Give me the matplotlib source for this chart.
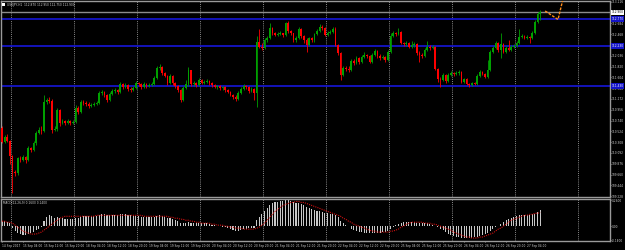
import matplotlib
matplotlib.use('Agg')
import matplotlib.pyplot as plt
from matplotlib.transforms import blended_transform_factory
from matplotlib.patches import Rectangle
from matplotlib import font_manager
import numpy as np

# USDJPY H1, 14 Sep 2017 20:00 .. 27 Sep 2017 ~10:00
first_open = 110.59
close = np.array([
    110.31, 110.41, 110.33, 110.03, 109.71, 109.69, 109.99, 109.95, 110.01, 109.95,
    110.19, 110.15, 110.29, 110.49, 110.55, 110.53, 111.11, 111.15, 111.13, 110.55,
    110.57, 110.95, 110.69, 110.73, 110.69, 110.73, 110.69, 110.71, 110.99, 110.91,
    111.11, 111.09, 111.07, 111.03, 111.05, 111.07, 111.09, 111.29, 111.31, 111.25,
    111.15, 111.27, 111.33, 111.35, 111.31, 111.47, 111.41, 111.45, 111.37, 111.35,
    111.39, 111.49, 111.47, 111.41, 111.47, 111.43, 111.45, 111.47, 111.59, 111.79,
    111.81, 111.69, 111.63, 111.49, 111.63, 111.49, 111.43, 111.35, 111.15, 111.39,
    111.47, 111.75, 111.47, 111.49, 111.45, 111.55, 111.49, 111.51, 111.53, 111.49,
    111.45, 111.41, 111.43, 111.39, 111.41, 111.35, 111.31, 111.25, 111.21, 111.17,
    111.29, 111.37, 111.43, 111.41, 111.33, 111.37, 111.29, 112.31, 112.21, 112.19,
    112.35, 112.39, 112.59, 112.49, 112.45, 112.47, 112.49, 112.45, 112.69, 112.53,
    112.49, 112.35, 112.39, 112.57, 112.43, 112.35, 112.25, 112.39, 112.35, 112.47,
    112.53, 112.61, 112.59, 112.45, 112.49, 112.51, 112.57, 112.25, 112.09, 111.65,
    111.79, 111.77, 111.75, 111.93, 111.89, 111.99, 111.91, 112.01, 112.05, 112.03,
    111.91, 112.05, 112.13, 112.03, 111.99, 112.01, 111.95, 112.11, 112.43, 112.49,
    112.47, 112.51, 112.29, 112.27, 112.29, 112.21, 112.25, 112.27, 112.09, 112.05,
    112.03, 112.15, 112.21, 112.19, 112.21, 111.77, 111.57, 111.55, 111.65, 111.53,
    111.65, 111.69, 111.67, 111.69, 111.71, 111.51, 111.57, 111.47, 111.45, 111.49,
    111.47, 111.63, 111.71, 111.67, 111.61, 111.75, 112.11, 112.19, 112.29, 112.15,
    112.27, 112.11, 112.19, 112.15, 112.21, 112.23, 112.29, 112.41, 112.43, 112.39,
    112.41, 112.39, 112.49, 112.71, 112.87, 112.90])
high = np.array([
    110.63, 110.45, 110.47, 110.35, 110.05, 109.75, 110.01, 110.03, 110.05, 110.03,
    110.23, 110.21, 110.33, 110.53, 110.61, 110.63, 111.25, 111.19, 111.21, 111.17,
    110.63, 110.99, 110.97, 110.77, 110.75, 110.77, 110.75, 110.75, 111.05, 111.03,
    111.15, 111.15, 111.13, 111.11, 111.09, 111.11, 111.13, 111.33, 111.35, 111.33,
    111.27, 111.31, 111.37, 111.39, 111.37, 111.51, 111.49, 111.49, 111.47, 111.41,
    111.43, 111.53, 111.51, 111.49, 111.51, 111.49, 111.49, 111.51, 111.63, 111.83,
    111.87, 111.83, 111.71, 111.65, 111.67, 111.65, 111.51, 111.45, 111.37, 111.43,
    111.55, 111.81, 111.75, 111.53, 111.51, 111.59, 111.57, 111.55, 111.57, 111.55,
    111.51, 111.47, 111.45, 111.45, 111.43, 111.43, 111.37, 111.33, 111.27, 111.25,
    111.33, 111.41, 111.47, 111.45, 111.43, 111.41, 111.39, 112.43, 112.57, 112.29,
    112.39, 112.43, 112.69, 112.61, 112.51, 112.51, 112.53, 112.49, 112.71, 112.73,
    112.55, 112.49, 112.43, 112.61, 112.59, 112.45, 112.39, 112.41, 112.41, 112.49,
    112.57, 112.67, 112.65, 112.61, 112.53, 112.55, 112.61, 112.61, 112.27, 112.11,
    111.83, 111.83, 111.83, 111.97, 111.97, 112.03, 112.01, 112.05, 112.11, 112.07,
    112.05, 112.09, 112.17, 112.15, 112.07, 112.05, 112.03, 112.15, 112.49, 112.53,
    112.51, 112.59, 112.53, 112.31, 112.33, 112.31, 112.33, 112.31, 112.29, 112.13,
    112.09, 112.19, 112.33, 112.25, 112.25, 112.23, 111.79, 111.61, 111.69, 111.67,
    111.69, 111.73, 111.71, 111.73, 111.75, 111.73, 111.59, 111.59, 111.49, 111.51,
    111.51, 111.67, 111.75, 111.73, 111.69, 111.95, 112.15, 112.23, 112.33, 112.31,
    112.49, 112.29, 112.23, 112.35, 112.25, 112.27, 112.33, 112.57, 112.47, 112.45,
    112.45, 112.43, 112.53, 112.75, 112.91, 112.95])
low = np.array([
    110.29, 110.29, 110.31, 109.87, 109.29, 109.63, 109.65, 109.91, 109.93, 109.89,
    109.93, 110.11, 110.13, 110.25, 110.47, 110.47, 110.51, 111.07, 111.09, 110.49,
    110.53, 110.53, 110.63, 110.67, 110.65, 110.67, 110.65, 110.67, 110.69, 110.87,
    110.89, 111.05, 111.03, 110.99, 111.01, 111.03, 111.05, 111.07, 111.25, 111.21,
    111.11, 111.13, 111.25, 111.29, 111.27, 111.29, 111.37, 111.39, 111.33, 111.31,
    111.33, 111.37, 111.43, 111.37, 111.39, 111.39, 111.41, 111.43, 111.45, 111.57,
    111.75, 111.65, 111.61, 111.45, 111.47, 111.45, 111.39, 111.31, 111.11, 111.13,
    111.37, 111.43, 111.43, 111.43, 111.41, 111.43, 111.47, 111.47, 111.49, 111.45,
    111.41, 111.39, 111.37, 111.35, 111.35, 111.31, 111.29, 111.23, 111.17, 111.13,
    111.15, 111.27, 111.35, 111.37, 111.29, 111.31, 111.15, 111.01, 112.19, 112.15,
    112.17, 112.31, 112.37, 112.45, 112.43, 112.43, 112.45, 112.41, 112.43, 112.49,
    112.45, 112.31, 112.31, 112.37, 112.39, 112.29, 112.11, 112.23, 112.31, 112.31,
    112.45, 112.51, 112.55, 112.43, 112.43, 112.47, 112.49, 112.23, 112.05, 111.55,
    111.63, 111.73, 111.71, 111.73, 111.85, 111.87, 111.87, 111.89, 111.99, 111.99,
    111.89, 111.89, 112.03, 111.99, 111.95, 111.97, 111.91, 111.93, 112.09, 112.41,
    112.43, 112.45, 112.27, 112.23, 112.23, 112.19, 112.19, 112.21, 112.05, 111.91,
    111.99, 112.01, 112.13, 112.15, 112.17, 111.75, 111.51, 111.41, 111.53, 111.49,
    111.51, 111.63, 111.63, 111.65, 111.65, 111.49, 111.49, 111.45, 111.41, 111.43,
    111.45, 111.45, 111.61, 111.65, 111.59, 111.59, 111.73, 112.09, 112.17, 112.11,
    111.99, 112.09, 112.09, 112.13, 112.13, 112.19, 112.21, 112.27, 112.39, 112.37,
    112.37, 112.29, 112.37, 112.47, 112.69, 112.75])

# MACD(12,26,9): main histogram and signal
macd_main = np.array([
    0.05, 0.05, 0.04, 0.03,
    -0.02, -0.05, -0.07, -0.08, -0.09, -0.09, -0.08,
    -0.07, -0.06, -0.04, -0.03,
    -0.01, 0.05, 0.09, 0.11, 0.10,
    0.08, 0.09, 0.08, 0.08, 0.07, 0.07, 0.07, 0.07, 0.08,
    0.08, 0.09, 0.10, 0.10, 0.10, 0.10, 0.10, 0.10, 0.11, 0.12, 0.12,
    0.11, 0.11, 0.11, 0.11, 0.11, 0.12, 0.12, 0.12, 0.11, 0.11, 0.10,
    0.10, 0.10, 0.09, 0.09, 0.09, 0.09, 0.09, 0.09, 0.10, 0.11, 0.10, 0.09, 0.08,
    0.08, 0.07, 0.06, 0.05, 0.03, 0.03, 0.03, 0.04, 0.03, 0.03, 0.03, 0.03, 0.03, 0.03, 0.03, 0.02,
    0.01, 0.01, 0.005, 0.0, -0.005,
    -0.01, -0.02, -0.03, -0.04, -0.05, -0.05, -0.04, -0.03, -0.03, -0.02, -0.02, -0.02,
    0.06, 0.09, 0.12, 0.15, 0.18, 0.21, 0.23, 0.24, 0.24, 0.25, 0.25, 0.26,
    0.26, 0.25, 0.24, 0.23, 0.23, 0.22, 0.21, 0.19, 0.18, 0.17, 0.16, 0.15,
    0.15, 0.14, 0.13, 0.13, 0.12, 0.12, 0.11, 0.09, 0.05, 0.03, 0.01, 0.0,
    -0.03, -0.04, -0.05, -0.06, -0.06, -0.07, -0.07, -0.07, -0.07, -0.07, -0.07, -0.07,
    -0.06, -0.06, -0.05, -0.03, -0.01,
    0.01, 0.02, 0.03, 0.04, 0.04, 0.04, 0.04, 0.04, 0.03, 0.03, 0.03, 0.03, 0.03, 0.02, 0.01,
    0.0, -0.01, -0.03, -0.04, -0.06, -0.08, -0.09, -0.10, -0.11, -0.11, -0.12, -0.12, -0.12,
    -0.12, -0.12, -0.11, -0.11, -0.10, -0.09, -0.08, -0.07, -0.05, -0.03, -0.01, 0.0,
    0.02, 0.04, 0.06, 0.07, 0.08, 0.09, 0.10, 0.11, 0.11, 0.11, 0.11, 0.11, 0.12, 0.12, 0.14, 0.16])
macd_signal = np.array([
    0.05, 0.05, 0.04, 0.04,
    0.03, 0.01, -0.01, -0.03, -0.05, -0.06, -0.07,
    -0.08, -0.08, -0.08, -0.07,
    -0.06, -0.04, -0.02, 0.0, 0.02,
    0.04, 0.06, 0.08, 0.09, 0.10, 0.10, 0.10, 0.10, 0.10, 0.10,
    0.10, 0.10, 0.10, 0.10, 0.10, 0.10, 0.11, 0.11, 0.11, 0.11, 0.11,
    0.11, 0.11, 0.11, 0.11, 0.11, 0.11, 0.11, 0.11, 0.11, 0.11,
    0.11, 0.11, 0.11, 0.10, 0.10, 0.10, 0.10, 0.10, 0.10, 0.10, 0.10, 0.10, 0.10,
    0.09, 0.09, 0.08, 0.08, 0.07, 0.07, 0.06, 0.06, 0.05, 0.05, 0.04, 0.04, 0.03, 0.03, 0.03, 0.03,
    0.02, 0.02, 0.01, 0.01, 0.01,
    0.0, 0.0, -0.01, -0.01, -0.02, -0.02, -0.02, -0.03, -0.03, -0.03, -0.03, -0.03,
    -0.02, -0.01, 0.01, 0.03, 0.06, 0.09, 0.12, 0.15,
    0.17, 0.19, 0.21, 0.22, 0.23, 0.24, 0.24, 0.25,
    0.25, 0.24, 0.24, 0.23, 0.22, 0.21, 0.20, 0.19,
    0.18, 0.17, 0.16, 0.15, 0.14, 0.13, 0.12, 0.11,
    0.10, 0.08, 0.07, 0.05, 0.04, 0.02, 0.01, 0.0,
    -0.01, -0.02, -0.03, -0.04, -0.05, -0.05, -0.06, -0.06, -0.06, -0.06,
    -0.06, -0.05, -0.05,
    -0.04, -0.03, -0.01, 0.0, 0.02, 0.03, 0.04, 0.04, 0.04, 0.04, 0.04, 0.03, 0.03, 0.03, 0.02,
    0.02, 0.01, 0.0, -0.01, -0.02, -0.03, -0.04,
    -0.06, -0.07, -0.08, -0.09, -0.10, -0.11, -0.11, -0.12, -0.12, -0.12, -0.11, -0.11,
    -0.10, -0.09, -0.08, -0.07, -0.05, -0.03,
    -0.02, 0.0, 0.02, 0.04, 0.06, 0.07, 0.08, 0.09, 0.10, 0.11, 0.11, 0.12, 0.12, 0.13, 0.13, 0.14])

date_labels = ['14 Sep 2017', '15 Sep 04:00', '15 Sep 12:00', '15 Sep 20:00',
               '18 Sep 04:00', '18 Sep 12:00', '18 Sep 20:00', '19 Sep 04:00',
               '19 Sep 12:00', '19 Sep 20:00', '20 Sep 04:00', '20 Sep 12:00',
               '20 Sep 20:00', '21 Sep 04:00', '21 Sep 12:00', '21 Sep 20:00',
               '22 Sep 04:00', '22 Sep 12:00', '22 Sep 20:00', '25 Sep 04:00',
               '25 Sep 12:00', '25 Sep 20:00', '26 Sep 04:00', '26 Sep 12:00',
               '26 Sep 20:00', '27 Sep 04:00']

level_lines = [112.77, 112.23, 111.43]   # blue horizontal levels
zz_bar = [206.9, 211.8, 213.7]           # orange projection
zz_price = [112.93, 112.76, 113.17]

# narrow face if there is one, else plain DejaVu
names = {f.name for f in font_manager.fontManager.ttflist}
narrow = [n for n in ('Liberation Sans Narrow', 'DejaVu Sans Condensed') if n in names]
plt.rcParams['font.family'] = narrow + ['DejaVu Sans']

BG = 'black'
AXC = '#9a9a9a'
TXT = '#d4d4d4'
FS = 2.5 if narrow else 2.1

fig = plt.figure(figsize=(6.25, 2.5), dpi=100, facecolor=BG)
ax = fig.add_axes([1 / 625, 1 - 197 / 250, 609 / 625, 196 / 250])
ax2 = fig.add_axes([1 / 625, 1 - 241 / 250, 609 / 625, 42 / 250])

x = np.arange(len(close))
for a in (ax, ax2):
    a.set_facecolor(BG)
    for s in a.spines.values():
        s.set_color(AXC)
        s.set_linewidth(1)
    a.set_xlim(-0.38, 231.6)
    a.tick_params(axis='y', left=False, labelleft=False, right=True, labelright=True,
                  colors=TXT, labelsize=FS, length=1.0, width=0.5, pad=0.4)
    for g in np.arange(3.43, 232, 24):
        a.axvline(g, color='#8a8a8a', lw=0.7, ls=(0, (1, 1.2)), zorder=0)

# candles
opn = np.concatenate([[first_open], close[:-1]])
colors = np.where(close >= opn, '#00a000', '#ff0000')
ax.vlines(x, low, high, colors=colors, lw=0.6, zorder=2)
body_lo = np.minimum(opn, close)
body_h = np.maximum(np.abs(close - opn), 0.012)
ax.bar(x, body_h, bottom=body_lo, width=0.62, color=colors, linewidth=0, zorder=3)

ax.set_ylim(109.21, 113.13)
yt = 113.116 - 0.216 * np.arange(19)
ax.set_yticks(yt)
ax.set_yticklabels(['%.3f' % v for v in yt])
ax.set_xticks([])

tr = blended_transform_factory(ax.transAxes, ax.transData)
for lv in level_lines:
    ax.axhline(lv, color='#1414c8', lw=1.3, zorder=1)
    ax.text(1.002, lv, '%.3f' % lv, transform=tr, ha='left', va='center', fontsize=FS,
            color='white', bbox=dict(boxstyle='square,pad=0.2', fc='#1414c8', ec='none'))
last = close[-1]
ax.axhline(last, color='#8c8c8c', lw=1, zorder=1)
ax.text(1.002, last, '%.3f' % last, transform=tr, ha='left', va='center', fontsize=FS,
        color='black', bbox=dict(boxstyle='square,pad=0.2', fc='white', ec='none'))

ax.plot(zz_bar, zz_price, color='#ff8c1a', lw=1, ls=(0, (2, 1)), zorder=4)

fig.patches.append(Rectangle((2 / 625, 1 - 6 / 250), 2.5 / 625, 2.5 / 250,
                             transform=fig.transFigure, fc='white', ec='none'))
fig.text(7 / 625, 1 - 4.8 / 250,
         'USDJPY,H1  %.3f %.3f %.3f %.3f' % (opn[-1], high[-1], low[-1], close[-1]),
         fontsize=FS, color=TXT, va='center')

# MACD window
ax2.bar(x, macd_main, width=0.4, color='#c8c8c8', linewidth=0, zorder=2)
ax2.plot(x, macd_signal, color='#d01010', lw=0.8, ls=(0, (1, 1)), zorder=3)
ax2.set_ylim(-0.15, 0.275)
ax2.set_yticks([macd_main.max(), 0.0, -0.14])
ax2.set_yticklabels(['%.4f' % macd_main.max(), '0.00', '-0.1400'])
ax2.text(0.004, 0.9, 'MACD(12,26,9) %.4f %.4f' % (macd_main[-1], macd_signal[-1]),
         transform=ax2.transAxes, fontsize=FS, color=TXT, va='center')

ax2.set_xticks(np.arange(0, len(close), 8))
ax2.set_xticklabels(date_labels, ha='left')
ax2.tick_params(axis='x', colors=TXT, labelsize=FS, length=1.0, width=0.5, pad=0.8)

fig.savefig('out.png', dpi=100, facecolor=BG)
